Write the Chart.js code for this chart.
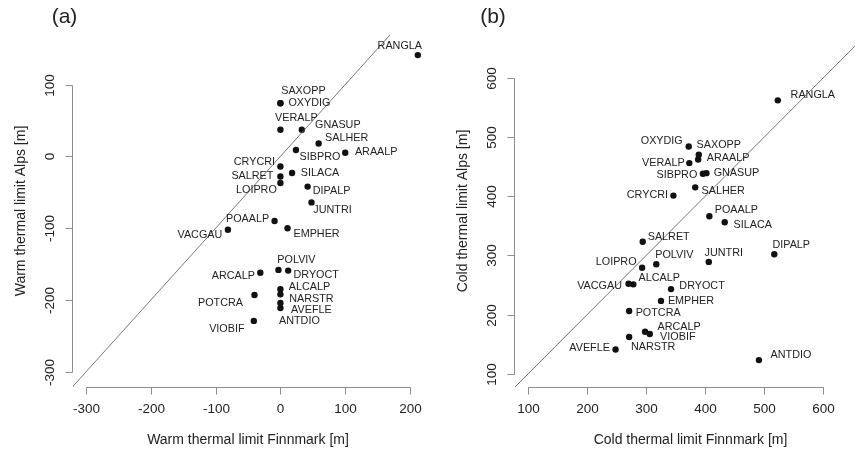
<!DOCTYPE html>
<html>
<head>
<meta charset="utf-8">
<script src="https://cdn.jsdelivr.net/npm/chart.js@4.4.1/dist/chart.umd.min.js"></script>
<style>
  html, body { margin: 0; padding: 0; background: #fff; overflow: hidden; }
  #wrap { position: relative; width: 855px; height: 453px; overflow: hidden; }
  canvas { position: absolute; top: 0; }
  #warm-chart { left: 0; }
  #cold-chart { left: 440px; }
</style>
</head>
<body>
<div id="wrap">
  <canvas id="warm-chart" width="440" height="453"></canvas>
  <canvas id="cold-chart" width="430" height="453"></canvas>
</div>
<script>
// --- data ---
const species = ['RANGLA', 'SAXOPP', 'OXYDIG', 'VERALP', 'GNASUP', 'SALHER', 'SIBPRO', 'ARAALP',
  'CRYCRI', 'SALRET', 'LOIPRO', 'SILACA', 'DIPALP', 'JUNTRI', 'POAALP', 'EMPHER', 'VACGAU',
  'POLVIV', 'DRYOCT', 'ARCALP', 'ALCALP', 'NARSTR', 'AVEFLE', 'ANTDIO', 'POTCRA', 'VIOBIF'];

const warmFinnmark = [212, 0, 0, 0, 33, 59, 24, 100, 0, 0, 0, 18, 42, 48, -9, 11, -81,
  -3, 12, -31, 0, 0, 0, 0, -40, -41];
const warmAlps = [141, 74, 74, 37, 37, 18, 9, 5, -14, -28, -37, -23, -42, -64, -90, -100, -102,
  -158, -159, -162, -185, -192, -204, -211, -193, -229];

const coldFinnmark = [523, 389, 372, 373, 402, 383, 396, 388, 346, 294, 293, 433, 517, 406, 407,
  325, 270, 317, 342, 298, 278, 271, 248, 491, 271, 306];
const coldAlps = [562, 470, 484, 456, 439, 415, 438, 462, 401, 323, 279, 356, 302, 289, 366,
  223, 252, 285, 243, 171, 251, 162, 141, 123, 206, 167];

const warmTicksX = [-300, -200, -100, 0, 100, 200];
const warmTicksY = [-300, -200, -100, 0, 100];
const coldTicks = [100, 200, 300, 400, 500, 600];

// 1:1 reference line ends (clipped to the plot region)
const oneToOneWarm = [-400, 300];
const oneToOneCold = [0, 800];

// --- label placement (pixel shift of label centre from its point) ---
const warmLabelShift = {
  RANGLA: [-18, -9], SAXOPP: [23, -12], OXYDIG: [29, 0], VERALP: [16, -12], GNASUP: [36, -5],
  SALHER: [28, -5], SIBPRO: [24, 7], ARAALP: [31, -1], CRYCRI: [-26, -4], SALRET: [-28, 0],
  LOIPRO: [-24, 7], SILACA: [28, 0], DIPALP: [24, 4], JUNTRI: [21, 8], POAALP: [-27, -2],
  EMPHER: [29, 6], VACGAU: [-28, 5], POLVIV: [18, -10], DRYOCT: [28, 4], ARCALP: [-27, 3],
  ALCALP: [29, -2], NARSTR: [31, 5], AVEFLE: [31, 7], ANTDIO: [19, 13], POTCRA: [-34, 8],
  VIOBIF: [-27, 8]
};
const coldLabelShift = {
  RANGLA: [35, -5], OXYDIG: [-27, -5], SAXOPP: [20, -10], ARAALP: [30, -2], VERALP: [-26, 0],
  SIBPRO: [-26, 1], GNASUP: [30, 0], SALHER: [28, 4], CRYCRI: [-26, -1], POAALP: [27, -6],
  SILACA: [28, 3], SALRET: [26, -5], DIPALP: [17, -9], JUNTRI: [15, -9], LOIPRO: [-26, -6],
  POLVIV: [18, -9], VACGAU: [-29, 2], ALCALP: [26, -6], DRYOCT: [31, -3], EMPHER: [30, 0],
  POTCRA: [29, 2], ARCALP: [34, -5], VIOBIF: [28, 3], NARSTR: [24, 10], AVEFLE: [-26, -1],
  ANTDIO: [32, -5]
};

const FONT = '"Liberation Sans", Arial, Helvetica, sans-serif';
const axisGrey = '#8c8c8c';
const textDark = '#222';

// R-style axes: line only from first to last tick, labels on y rotated
const rAxes = {
  id: 'rAxes',
  afterDraw(chart, args, o) {
    const ctx = chart.ctx;
    const xs = chart.scales.x, ys = chart.scales.y;
    const area = chart.chartArea;
    ctx.save();
    ctx.strokeStyle = axisGrey;
    ctx.lineWidth = 1;
    ctx.fillStyle = textDark;

    // x axis
    const yb = Math.round(area.bottom) + 0.5;
    const xa = o.xTicks.map(v => Math.round(xs.getPixelForValue(v)) + 0.5);
    ctx.beginPath();
    ctx.moveTo(xa[0], yb);
    ctx.lineTo(xa[xa.length - 1], yb);
    xa.forEach(p => { ctx.moveTo(p, yb); ctx.lineTo(p, yb + 7); });
    ctx.stroke();
    ctx.font = '13.5px ' + FONT;
    ctx.textAlign = 'center';
    ctx.textBaseline = 'middle';
    o.xTicks.forEach((v, i) => ctx.fillText(String(v), xa[i], yb + 22));

    // y axis
    const xl = Math.round(area.left) - 0.5;
    const ya = o.yTicks.map(v => Math.round(ys.getPixelForValue(v)) + 0.5);
    ctx.beginPath();
    ctx.moveTo(xl, ya[0]);
    ctx.lineTo(xl, ya[ya.length - 1]);
    ya.forEach(p => { ctx.moveTo(xl, p); ctx.lineTo(xl - 7, p); });
    ctx.stroke();
    o.yTicks.forEach((v, i) => {
      ctx.save();
      ctx.translate(xl - 22, ya[i]);
      ctx.rotate(-Math.PI / 2);
      ctx.fillText(String(v), 0, 0);
      ctx.restore();
    });

    // titles
    ctx.font = '14px ' + FONT;
    const xMid = xs.getPixelForValue((o.xLim[0] + o.xLim[1]) / 2);
    ctx.fillText(o.xTitle, xMid, yb + 52.5);
    ctx.save();
    ctx.translate(xl - 51, (area.top + area.bottom) / 2);
    ctx.rotate(-Math.PI / 2);
    ctx.fillText(o.yTitle, 0, 0);
    ctx.restore();

    ctx.font = '21px ' + FONT;
    ctx.fillText(o.tag, o.tagX, 17);
    ctx.restore();
  }
};

const pointLabels = {
  id: 'pointLabels',
  afterDatasetsDraw(chart, args, o) {
    const ctx = chart.ctx;
    const meta = chart.getDatasetMeta(1);
    ctx.save();
    ctx.font = '10.8px ' + FONT;
    ctx.fillStyle = textDark;
    ctx.textAlign = 'center';
    ctx.textBaseline = 'middle';
    meta.data.forEach((pt, i) => {
      const s = o.shift[species[i]] || [0, 0];
      ctx.fillText(species[i], pt.x + s[0], pt.y + s[1]);
    });
    ctx.restore();
  }
};

function makePanel(id, xVals, yVals, cfg) {
  const pts = xVals.map((x, i) => ({ x: x, y: yVals[i] }));
  return new Chart(document.getElementById(id), {
    type: 'scatter',
    data: {
      datasets: [
        {
          data: cfg.line.map(v => ({ x: v, y: v })),
          showLine: true,
          borderColor: '#555',
          borderWidth: 0.8,
          pointRadius: 0,
        },
        {
          data: pts,
          backgroundColor: '#111',
          borderColor: '#111',
          borderWidth: 0,
          pointRadius: 3.2,
          clip: false,
        }
      ]
    },
    options: {
      responsive: false,
      animation: false,
      devicePixelRatio: 1,
      layout: { padding: cfg.padding },
      plugins: {
        legend: { display: false },
        tooltip: { enabled: false },
        rAxes: cfg.axes,
        pointLabels: { shift: cfg.shift }
      },
      scales: {
        x: { type: 'linear', display: false, min: cfg.xLim[0], max: cfg.xLim[1] },
        y: { type: 'linear', display: false, min: cfg.yLim[0], max: cfg.yLim[1] }
      }
    },
    plugins: [rAxes, pointLabels]
  });
}

makePanel('warm-chart', warmFinnmark, warmAlps, {
  xLim: [-320, 220],
  yLim: [-321, 169],
  padding: { left: 73, right: 17, top: 35, bottom: 66 },
  line: oneToOneWarm,
  shift: warmLabelShift,
  axes: {
    xTicks: warmTicksX, yTicks: warmTicksY, xLim: [-320, 220],
    xTitle: 'Warm thermal limit Finnmark [m]', yTitle: 'Warm thermal limit Alps [m]',
    tag: '(a)', tagX: 64.5
  }
});

makePanel('cold-chart', coldFinnmark, coldAlps, {
  xLim: [77.5, 672.5],
  yLim: [77.5, 672.5],
  padding: { left: 75, right: 4, top: 35, bottom: 66 },
  line: oneToOneCold,
  shift: coldLabelShift,
  axes: {
    xTicks: coldTicks, yTicks: coldTicks, xLim: [77.5, 672.5],
    xTitle: 'Cold thermal limit Finnmark [m]', yTitle: 'Cold thermal limit Alps [m]',
    tag: '(b)', tagX: 53
  }
});
</script>
</body>
</html>
